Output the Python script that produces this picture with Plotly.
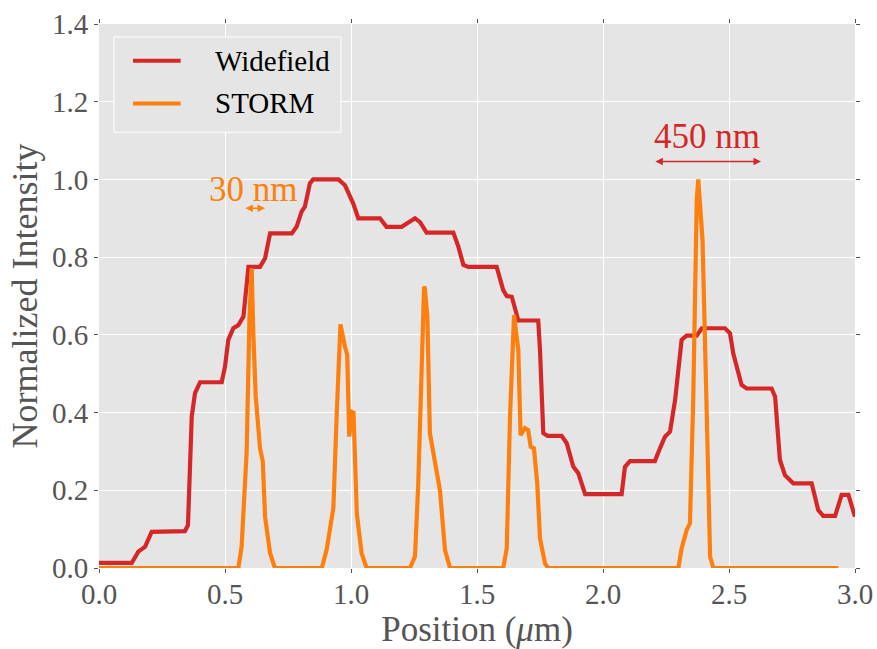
import plotly.graph_objects as go

# Line profiles across the sample (position in micrometres, normalised intensity)
widefield_x = [0.0, 0.13, 0.156, 0.183, 0.209, 0.341, 0.353, 0.368, 0.381, 0.401, 0.487, 0.50, 0.513,
               0.533, 0.553, 0.573, 0.593, 0.639, 0.659, 0.679, 0.765, 0.784, 0.804, 0.817, 0.837, 0.85,
               0.95, 0.976, 1.009, 1.029, 1.115, 1.141, 1.201, 1.254, 1.274, 1.30, 1.406, 1.426, 1.446,
               1.466, 1.578, 1.604, 1.618, 1.638, 1.664, 1.743, 1.75, 1.763, 1.78, 1.836, 1.856, 1.882,
               1.902, 1.929, 2.074, 2.087, 2.107, 2.206, 2.226, 2.246, 2.266, 2.286, 2.312, 2.332, 2.372,
               2.392, 2.484, 2.504, 2.517, 2.55, 2.57, 2.669, 2.683, 2.702, 2.722, 2.755, 2.828, 2.854,
               2.874, 2.921, 2.947, 2.974, 3.0]
widefield_y = [0.013, 0.013, 0.042, 0.055, 0.093, 0.095, 0.11, 0.39, 0.45, 0.478, 0.478, 0.518, 0.587,
               0.617, 0.625, 0.647, 0.775, 0.775, 0.797, 0.861, 0.861, 0.878, 0.917, 0.93, 0.99, 1.0,
               1.0, 0.985, 0.938, 0.9, 0.9, 0.878, 0.878, 0.9, 0.89, 0.863, 0.863, 0.827, 0.78,
               0.775, 0.775, 0.715, 0.70, 0.698, 0.637, 0.637, 0.561, 0.347, 0.34, 0.34, 0.321, 0.261,
               0.244, 0.19, 0.19, 0.26, 0.275, 0.275, 0.308, 0.338, 0.351, 0.432, 0.587, 0.598, 0.598,
               0.617, 0.617, 0.604, 0.552, 0.471, 0.462, 0.462, 0.441, 0.278, 0.239, 0.218, 0.218, 0.149,
               0.134, 0.134, 0.188, 0.188, 0.132]

storm_x = [0.0, 0.553, 0.566, 0.586, 0.597, 0.606, 0.612, 0.622, 0.639, 0.65, 0.659, 0.679, 0.698,
           0.884, 0.903, 0.93, 0.943, 0.954, 0.958, 0.976, 0.985, 0.993, 1.003, 1.01, 1.023, 1.042, 1.062,
           1.234, 1.254, 1.267, 1.28, 1.29, 1.293, 1.303, 1.313, 1.333, 1.353, 1.373, 1.393,
           1.604, 1.618, 1.631, 1.647, 1.664, 1.673, 1.69, 1.703, 1.713, 1.726, 1.739, 1.75, 1.77, 1.782,
           2.299, 2.312, 2.332, 2.345, 2.358, 2.372, 2.378, 2.385, 2.395, 2.411, 2.425, 2.438, 2.934]
storm_y = [0, 0, 0.055, 0.30, 0.64, 0.771, 0.612, 0.441, 0.308, 0.274, 0.132, 0.038, 0.0,
           0.0, 0.046, 0.154, 0.39, 0.625, 0.627, 0.57, 0.548, 0.338, 0.402, 0.40, 0.141, 0.038, 0.0,
           0.0, 0.03, 0.218, 0.561, 0.724, 0.72, 0.647, 0.347, 0.269, 0.20, 0.046, 0.0,
           0.0, 0.05, 0.39, 0.651, 0.561, 0.342, 0.36, 0.355, 0.312, 0.308, 0.218, 0.076, 0.012, 0.0,
           0.0, 0.05, 0.098, 0.115, 0.432, 0.947, 1.0, 0.947, 0.844, 0.415, 0.029, 0.0, 0.0]

series_names = ["Widefield", "STORM"]
tick_x = [0.0, 0.5, 1.0, 1.5, 2.0, 2.5, 3.0]
tick_y = [0.0, 0.2, 0.4, 0.6, 0.8, 1.0, 1.2, 1.4]

RED = "#d62728"
ORANGE = "#ff7f0e"
GREY = "#555555"
FONT = "Liberation Serif"

fig = go.Figure()
fig.add_trace(go.Scatter(x=widefield_x, y=widefield_y, mode="lines", name=series_names[0],
                         line=dict(color=RED, width=4.2), showlegend=False))
fig.add_trace(go.Scatter(x=storm_x, y=storm_y, mode="lines", name=series_names[1],
                         line=dict(color=ORANGE, width=4.2), showlegend=False))

# Legend box drawn in paper coordinates
fig.add_shape(type="rect", xref="paper", yref="paper", x0=0.0198, x1=0.320, y0=0.801, y1=0.976,
              fillcolor="#E5E5E5", line=dict(color="white", width=1), layer="above")
for name, col, yp in [(series_names[0], RED, 0.9325), (series_names[1], ORANGE, 0.854)]:
    fig.add_shape(type="line", xref="paper", yref="paper", x0=0.045, x1=0.108, y0=yp, y1=yp,
                  line=dict(color=col, width=4), layer="above")
    fig.add_annotation(xref="paper", yref="paper", x=0.151, y=yp, text=name, showarrow=False,
                       xanchor="left", yanchor="middle", font=dict(family=FONT, size=29, color="black"))

# Width markers
fig.add_annotation(x=0.659, y=0.926, ax=0.575, ay=0.926, xref="x", yref="y", axref="x", ayref="y",
                   text="", showarrow=True, arrowside="end+start", arrowhead=2, arrowsize=1,
                   arrowwidth=1.5, arrowcolor=ORANGE, standoff=0, startstandoff=0)
fig.add_annotation(x=0.611, y=0.975, text="30 nm", showarrow=False, xanchor="center", yanchor="middle",
                   font=dict(family=FONT, size=35, color=ORANGE))
fig.add_annotation(x=2.627, y=1.046, ax=2.202, ay=1.046, xref="x", yref="y", axref="x", ayref="y",
                   text="", showarrow=True, arrowside="end+start", arrowhead=2, arrowsize=1,
                   arrowwidth=1.5, arrowcolor=RED, standoff=0, startstandoff=0)
fig.add_annotation(x=2.413, y=1.11, text="450 nm", showarrow=False, xanchor="center", yanchor="middle",
                   font=dict(family=FONT, size=35, color=RED))

axis_common = dict(showgrid=True, gridcolor="white", gridwidth=1, zeroline=False, showline=False,
                   ticks="outside", ticklen=4, tickcolor=GREY, mirror="ticks",
                   tickfont=dict(family=FONT, size=29, color=GREY))

fig.update_xaxes(range=[0, 3], tickvals=tick_x, ticktext=[f"{v:.1f}" for v in tick_x],
                 ticklabelstandoff=-4,
                 title=dict(text="Position (<i>μ</i>m)", font=dict(family=FONT, size=35, color=GREY),
                            standoff=6),
                 **axis_common)
fig.update_yaxes(range=[0, 1.4], tickvals=tick_y, ticktext=[f"{v:.1f}" for v in tick_y],
                 title=dict(text="Normalized Intensity", font=dict(family=FONT, size=36, color=GREY),
                            standoff=3),
                 **axis_common)

fig.update_layout(width=877, height=649, margin=dict(l=99, r=22, t=24, b=81, autoexpand=False),
                  plot_bgcolor="#E5E5E5", paper_bgcolor="white",
                  font=dict(family=FONT, color=GREY))

fig.write_html("out.html")
